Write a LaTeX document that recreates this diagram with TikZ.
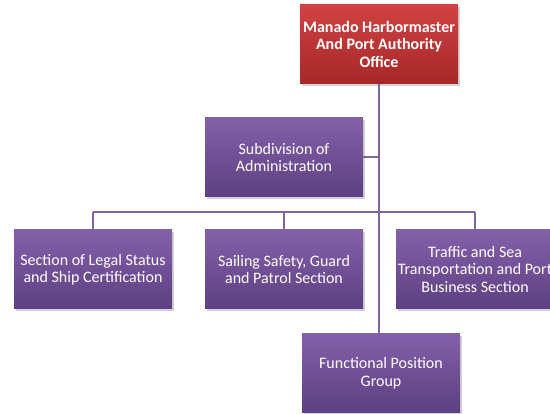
\documentclass[tikz,border=0pt]{standalone}
\usepackage{fontspec}
\setmainfont{Carlito}
\usetikzlibrary{shadows}
\definecolor{lineP}{HTML}{8064A2}
\definecolor{pTop}{HTML}{8460AA}
\definecolor{pBot}{HTML}{5E3F82}
\definecolor{rTop}{HTML}{D24242}
\definecolor{rBot}{HTML}{A42828}
\tikzset{
  orgbox/.style={draw=none, minimum width=158pt, minimum height=79pt, inner sep=1pt,
    align=center, text=white, font=\fontsize{16}{17.5}\selectfont,
    top color=pTop, bottom color=pBot,
    drop shadow={opacity=0.35, shadow xshift=2pt, shadow yshift=-2.5pt}},
  headbox/.style={orgbox, top color=rTop, bottom color=rBot, font=\fontsize{16}{17.5}\selectfont\bfseries},
  conn/.style={draw=lineP, line width=2pt}
}
\begin{document}
\begin{tikzpicture}[x=1pt,y=-1pt]
\useasboundingbox (0,0) rectangle (550,414);
\node[headbox] (head) at (379,44) {Manado Harbormaster\\And Port Authority\\Office};
\node[orgbox] (admin) at (284,157.5) {Subdivision of\\Administration};
\node[orgbox] (legal) at (93,269.5) {Section of Legal Status\\and Ship Certification};
\node[orgbox] (safety) at (284,269.5) {Sailing Safety, Guard\\and Patrol Section};
\node[orgbox] (traffic) at (475,269.5) {Traffic and Sea\\Transportation and Port\\Business Section};
\node[orgbox] (func) at (381,373) {Functional Position\\Group};
\coordinate (busL) at (93,212);
\coordinate (busR) at (475,212);
\coordinate (adminJ) at (379,157.5);
\begin{scope}[on background layer/.try]
\draw[conn] (head.south) -- (head.south |- func.north);
\draw[conn] (admin.east) -- (adminJ);
\draw[conn] (busL) -- (busR);
\draw[conn] (busL) -- (legal.north);
\draw[conn] (safety.north |- busL) -- (safety.north);
\draw[conn] (busR) -- (traffic.north);
\end{scope}
\end{tikzpicture}
\end{document}
